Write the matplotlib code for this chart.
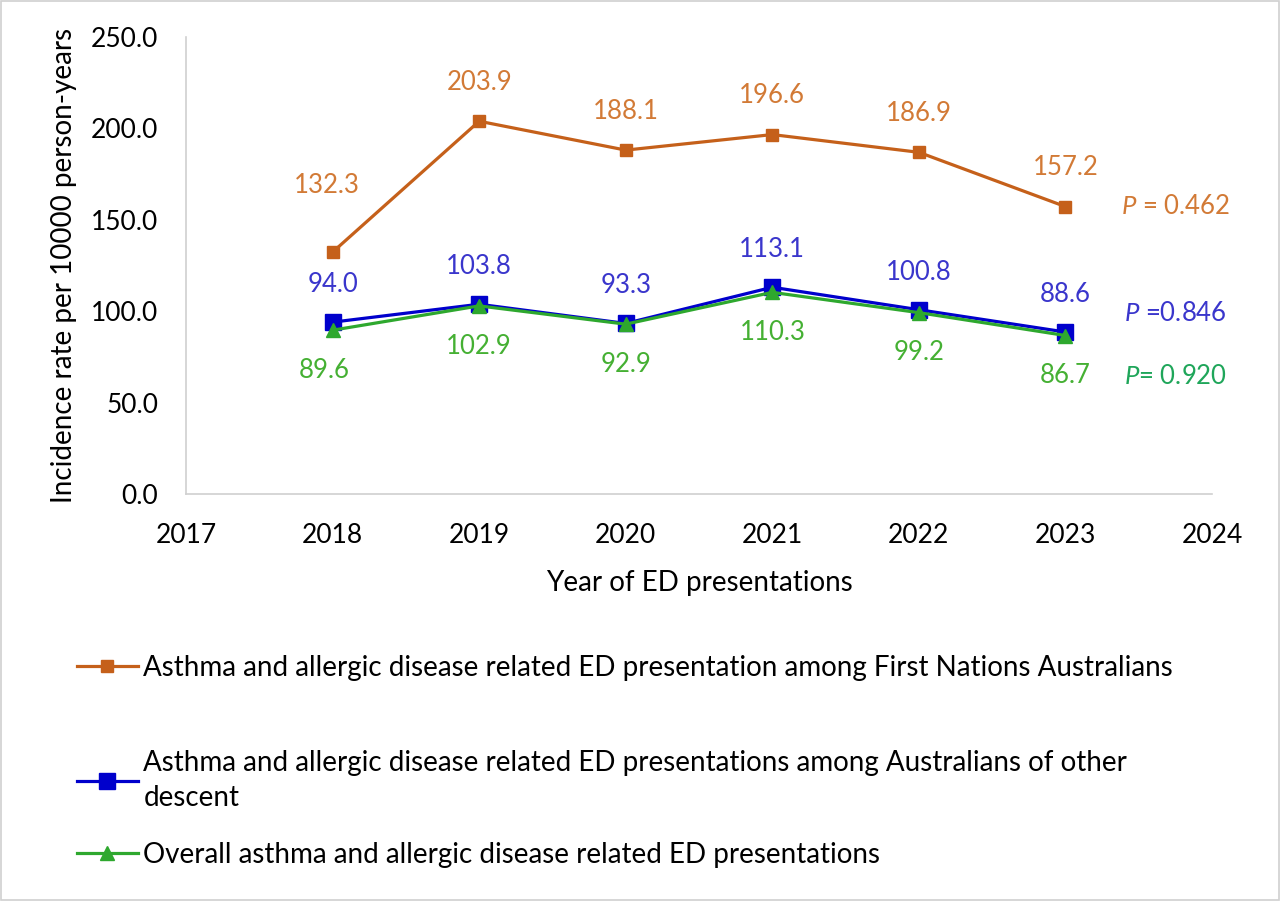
import matplotlib.pyplot as plt
from matplotlib.lines import Line2D

plt.rcParams['font.family'] = ['Lato', 'DejaVu Sans']
plt.rcParams['mathtext.fontset'] = 'custom'
plt.rcParams['mathtext.it'] = 'Lato:italic'
plt.rcParams['mathtext.rm'] = 'Lato'

years = [2018, 2019, 2020, 2021, 2022, 2023]
first_nations = [132.3, 203.9, 188.1, 196.6, 186.9, 157.2]
other_descent = [94.0, 103.8, 93.3, 113.1, 100.8, 88.6]
overall = [89.6, 102.9, 92.9, 110.3, 99.2, 86.7]
p_values = ['0.462', '0.846', '0.920']

labels = [
    'Asthma and allergic disease related ED presentation among First Nations Australians',
    'Asthma and allergic disease related ED presentations among Australians of other\ndescent',
    'Overall asthma and allergic disease related ED presentations',
]

c_orange, c_orange_txt = '#C5601A', '#D27A36'
c_blue, c_blue_txt = '#0000CC', '#3A36CC'
c_green, c_green_txt = '#2EA82E', '#45B033'
c_p_green = '#1FA65A'

fig = plt.figure(figsize=(12.8, 9.01), dpi=100)
ax = fig.add_axes([0.1453, 0.4517, 0.8016, 0.5073])

ax.plot(years, first_nations, color=c_orange, lw=2.3, marker='s', ms=9)
ax.plot(years, other_descent, color=c_blue, lw=2.3, marker='s', ms=11)
ax.plot(years, overall, color=c_green, lw=2.3, marker='^', ms=10)

lab_fs = 18.5
for i, (x, y) in enumerate(zip(years, first_nations)):
    off = 48 if i == 0 else 28
    ax.annotate(f'{y:.1f}', (x, y), xytext=(-4 if i == 0 else 0, off), textcoords='offset points',
                ha='center', va='center', fontsize=lab_fs, color=c_orange_txt)
for x, y in zip(years, other_descent):
    ax.annotate(f'{y:.1f}', (x, y), xytext=(0, 27), textcoords='offset points',
                ha='center', va='center', fontsize=lab_fs, color=c_blue_txt)
for i, (x, y) in enumerate(zip(years, overall)):
    ax.annotate(f'{y:.1f}', (x, y), xytext=(-6 if i == 0 else 0, -29), textcoords='offset points',
                ha='center', va='center', fontsize=lab_fs, color=c_green_txt)

ax.text(2023.75, first_nations[-1], f'$P$ = {p_values[0]}', ha='center', va='center',
        fontsize=lab_fs, color=c_orange_txt)
ax.text(2023.75, 99, f'$P$ ={p_values[1]}', ha='center', va='center',
        fontsize=lab_fs, color=c_blue_txt)
ax.text(2023.75, 64.5, f'$P$= {p_values[2]}', ha='center', va='center',
        fontsize=lab_fs, color=c_p_green)

ax.set_xlim(2017, 2024)
ax.set_ylim(0, 250)
ax.set_xticks(range(2017, 2025))
ax.set_yticks([0, 50, 100, 150, 200, 250])
ax.set_yticklabels([f'{v:.1f}' for v in [0, 50, 100, 150, 200, 250]])
ax.tick_params(length=0, labelsize=19)
ax.tick_params(axis='y', pad=20)
ax.tick_params(axis='x', pad=21)
for s in ['top', 'right']:
    ax.spines[s].set_visible(False)
for s in ['left', 'bottom']:
    ax.spines[s].set_color('#D0D0D0')
    ax.spines[s].set_linewidth(1.2)

ax.set_xlabel('Year of ED presentations', fontsize=20, labelpad=16)
ax.set_ylabel('Incidence rate per 10000 person-years', fontsize=20, labelpad=10)

handles = [
    Line2D([], [], color=c_orange, lw=2.3, marker='s', ms=9),
    Line2D([], [], color=c_blue, lw=2.3, marker='s', ms=11),
    Line2D([], [], color=c_green, lw=2.3, marker='^', ms=10),
]
ypos = [0.259, 0.134, 0.051]
for h, lab, yy in zip(handles, labels, ypos):
    leg = fig.legend([h], [lab], loc='center left', bbox_to_anchor=(0.049, yy), frameon=False,
                     fontsize=20, handlelength=2.2, handletextpad=0.2, borderpad=0)
    for t in leg.get_texts():
        t.set_linespacing(1.45)

fig.patches.append(plt.Rectangle((0.001, 0.001), 0.998, 0.998, transform=fig.transFigure,
                                 fill=False, edgecolor='#D0D0D0', lw=1.2))

fig.savefig('out.png', dpi=100)
